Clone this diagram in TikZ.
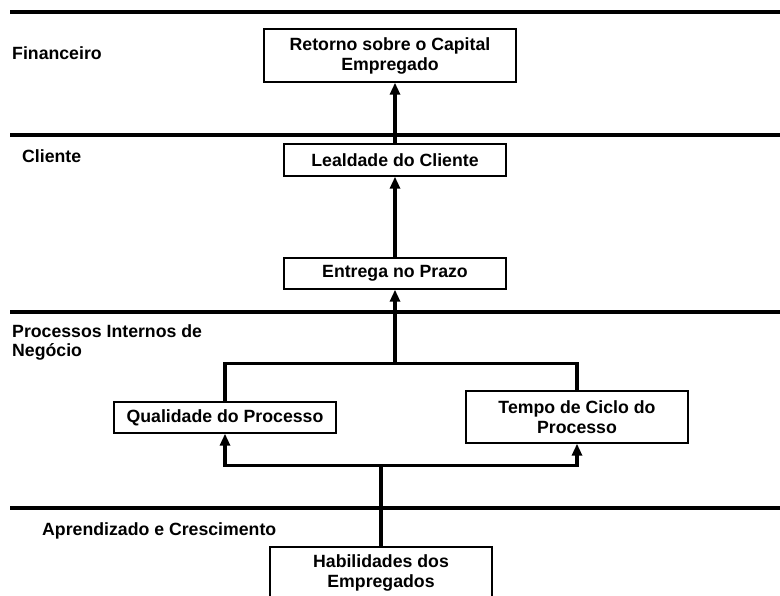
\documentclass[tikz,border=0pt]{standalone}
\usepackage{fontspec}
\setmainfont{Liberation Sans}
\usetikzlibrary{arrows.meta, positioning, calc}

\begin{document}
\begin{tikzpicture}[x=1pt, y=-1pt,
    font=\fontsize{17.7}{20}\selectfont\bfseries,
    box/.style={draw, line width=1.4pt, align=center, minimum width=222pt, inner sep=2pt},
    lane/.style={line width=4pt},
    lbl/.style={anchor=base west, inner sep=0pt, align=left},
    link/.style={line width=3.5pt},
    flow/.style={link, -{Triangle[length=12pt,width=10pt]}}]
  \useasboundingbox (0,0) rectangle (780,596);
  % perspectives
  \draw[lane] (10,12) -- (780,12);
  \draw[lane] (10,135) -- (780,135);
  \draw[lane] (10,312) -- (780,312);
  \draw[lane] (10,508) -- (780,508);
  \node[lbl] (fin) at (12,60) {Financeiro};
  \node[lbl] (cli) at (22,163) {Cliente};
  \node[lbl, font=\fontsize{17.7}{19}\selectfont\bfseries] (proc) at (12,356) {Processos Internos de\\Negócio};
  \node[lbl] (apr) at (42,535) {Aprendizado e Crescimento};
  % objectives
  \node[box, minimum width=252pt, minimum height=53pt] (ret) at (390,55.5) {Retorno sobre o Capital\\Empregado};
  \node[box, minimum height=32pt] (leal) at (395,160) {Lealdade do Cliente};
  \node[box, minimum height=31pt] (entr) at (395,273.5) {Entrega no Prazo};
  \node[box, minimum height=31pt] (qual) at (225,417.5) {Qualidade do Processo};
  \node[box, minimum height=52pt] (tempo) at (577,417) {Tempo de Ciclo do\\Processo};
  \node[box, minimum height=52pt] (hab) at (381,573) {Habilidades dos\\Empregados};
  % links
  \coordinate (jt) at ($(entr.south)+(0,74)$);
  \coordinate (jb) at ($(hab.north)+(0,-81)$);
  \draw[flow] (leal.north) -- (leal.north |- ret.south);
  \draw[flow] (entr.north) -- (leal.south);
  \draw[flow] (jt) -- (entr.south);
  \draw[link] (qual.north) |- (jt);
  \draw[link] (tempo.north) |- (jt);
  \draw[link] (hab.north) -- (jb);
  \draw[flow] (jb) -| (qual.south);
  \draw[flow] (jb) -| (tempo.south);
\end{tikzpicture}
\end{document}
